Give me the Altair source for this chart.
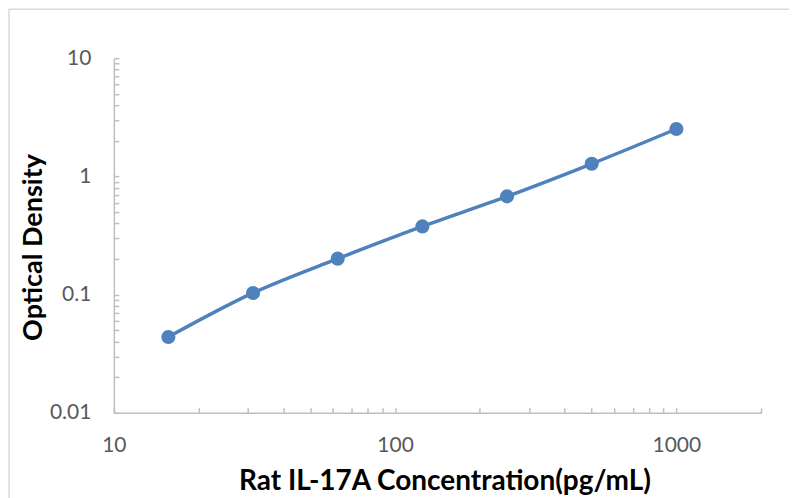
import altair as alt
import pandas as pd

# data
conc = [15.625, 31.25, 62.5, 125, 250, 500, 1000]
od = [0.0438, 0.1033, 0.2014, 0.3776, 0.678, 1.280, 2.52]

x_labels = [10, 100, 1000]
x_ticks = [10, 20, 30, 40, 50, 60, 70, 80, 90, 100, 200, 300, 400, 500, 600, 700, 800, 900, 1000, 2000]
y_labels = [0.01, 0.1, 1, 10]
y_ticks = [0.01, 0.02, 0.03, 0.04, 0.05, 0.06, 0.07, 0.08, 0.09,
           0.1, 0.2, 0.3, 0.4, 0.5, 0.6, 0.7, 0.8, 0.9,
           1, 2, 3, 4, 5, 6, 7, 8, 9, 10]

df = pd.DataFrame({"conc": conc, "od": od})

W, H = 648, 355
BLUE = "#4F81BD"
GRAY = "#BFBFBF"
FONT = "Lato"

xscale = alt.Scale(type="log", domain=[10, 2000], nice=False)
yscale = alt.Scale(type="log", domain=[0.01, 10], nice=False)

line = alt.Chart(df).mark_line(interpolate="monotone", color=BLUE, strokeWidth=3.5).encode(
    x=alt.X("conc:Q", scale=xscale,
            axis=alt.Axis(orient="bottom", values=x_labels, format="d", ticks=False, tickSize=0,
                          grid=False, domainColor=GRAY, domainWidth=1.5, labelFlush=False,
                          labelFont=FONT, labelFontSize=21, labelColor="#595959", labelPadding=22,
                          title="Rat IL-17A Concentration(pg/mL)", titleFont=FONT, titleFontSize=28,
                          titleFontWeight="bold", titleColor="#000000",
                          titleX=331, titleY=77, titleBaseline="alphabetic", titleAlign="center")),
    y=alt.Y("od:Q", scale=yscale,
            axis=alt.Axis(orient="left", values=y_labels, ticks=False, tickSize=0, grid=False,
                          domainColor=GRAY, domainWidth=1.5, labelFlush=False,
                          labelExpr="datum.value >= 1 ? format(datum.value, 'd') : format(datum.value, '~g')",
                          labelFont=FONT, labelFontSize=21, labelColor="#595959", labelPadding=23,
                          title="Optical Density", titleFont=FONT, titleFontSize=27,
                          titleFontWeight="bold", titleColor="#000000",
                          titleX=-72, titleY=189, titleBaseline="alphabetic", titleAlign="center",
                          titleAngle=270)),
)

points = alt.Chart(df).mark_circle(size=200, color=BLUE, opacity=1).encode(
    x=alt.X("conc:Q", scale=xscale,
            axis=alt.Axis(orient="top", offset=-H, values=x_ticks, labels=False, domain=False,
                          grid=False, tickSize=5, tickColor=GRAY, tickWidth=1.5, title=None)),
    y=alt.Y("od:Q", scale=yscale,
            axis=alt.Axis(orient="right", offset=-W, values=y_ticks, labels=False, domain=False,
                          grid=False, tickSize=5, tickColor=GRAY, tickWidth=1.5, title=None)),
)

frame = alt.Chart(alt.Data(values=[{}])).mark_rect(fill=None, stroke="#D9D9D9", strokeWidth=1.5).encode(
    x=alt.value(-105), x2=alt.value(1200), y=alt.value(-49), y2=alt.value(1200)
)

chart = alt.layer(frame, line, points).resolve_axis(x="independent", y="independent").properties(
    width=W, height=H,
    autosize=alt.AutoSizeParams(type="none"),
    padding={"left": 106, "top": 50, "right": 28, "bottom": 85},
).configure_view(stroke=None)

chart.save("out.html", embed_options={"renderer": "svg", "actions": False})
